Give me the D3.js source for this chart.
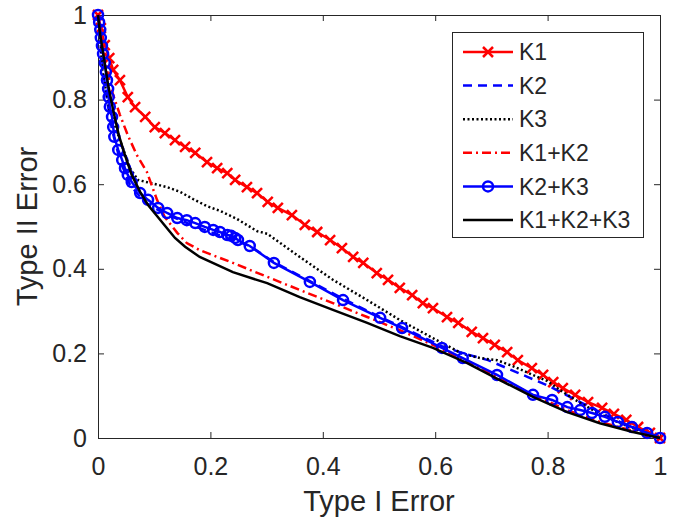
<!DOCTYPE html>
<html>
<head>
<meta charset="utf-8">
<script src="https://cdn.jsdelivr.net/npm/d3@7"></script>
<style>
  body { margin: 0; background: #fff; }
  svg text { font-family: "Liberation Sans", Arial, Helvetica, sans-serif; fill: #262626; }
</style>
</head>
<body>
<div id="chart"></div>
<script>
// values, [type I error, type II error]
const k1 = [[0,1],[0.005,0.969],[0.012,0.929],[0.02,0.898],[0.027,0.87],[0.039,0.846],[0.053,0.806],[0.066,0.782],
  [0.084,0.759],[0.101,0.735],[0.119,0.721],[0.137,0.704],[0.155,0.688],[0.173,0.674],[0.194,0.652],[0.212,0.638],
  [0.23,0.626],[0.244,0.61],[0.265,0.593],[0.283,0.579],[0.302,0.558],[0.32,0.544],[0.345,0.527],[0.368,0.504],
  [0.39,0.487],[0.413,0.468],[0.434,0.449],[0.454,0.428],[0.472,0.414],[0.496,0.39],[0.516,0.374],[0.537,0.355],
  [0.559,0.338],[0.578,0.319],[0.596,0.307],[0.621,0.286],[0.641,0.272],[0.665,0.251],[0.685,0.236],[0.706,0.22],
  [0.728,0.203],[0.747,0.184],[0.772,0.165],[0.792,0.149],[0.81,0.132],[0.827,0.118],[0.849,0.102],[0.872,0.085],
  [0.897,0.071],[0.918,0.057],[0.94,0.043],[0.961,0.026],[0.982,0.012],[1,0]];

const k2 = [[0,1],[0.004,0.941],[0.009,0.87],[0.016,0.799],[0.025,0.728],[0.039,0.657],[0.057,0.598],[0.084,0.556],
  [0.119,0.53],[0.181,0.496],[0.27,0.454],[0.313,0.416],[0.377,0.371],[0.436,0.329],[0.502,0.286],[0.541,0.262],
  [0.612,0.217],[0.653,0.199],[0.694,0.184],[0.728,0.165],[0.765,0.144],[0.799,0.125],[0.827,0.106],[0.858,0.085],
  [0.893,0.061],[0.929,0.038],[0.964,0.019],[1,0]];

const k3 = [[0,1],[0.004,0.953],[0.007,0.877],[0.014,0.823],[0.021,0.775],[0.039,0.704],[0.057,0.638],[0.071,0.61],
  [0.093,0.603],[0.123,0.593],[0.146,0.582],[0.169,0.565],[0.194,0.548],[0.217,0.537],[0.247,0.518],[0.283,0.489],
  [0.301,0.483],[0.359,0.428],[0.418,0.374],[0.479,0.326],[0.537,0.279],[0.596,0.236],[0.649,0.199],[0.68,0.189],
  [0.71,0.184],[0.738,0.17],[0.774,0.149],[0.799,0.135],[0.827,0.109],[0.858,0.083],[0.893,0.057],[0.929,0.035],
  [0.964,0.017],[1,0]];

const k1k2 = [[0,1],[0.005,0.953],[0.012,0.894],[0.02,0.846],[0.027,0.811],[0.039,0.764],[0.053,0.716],[0.069,0.669],
  [0.087,0.629],[0.105,0.563],[0.119,0.522],[0.141,0.485],[0.158,0.461],[0.181,0.444],[0.24,0.414],[0.301,0.381],
  [0.359,0.35],[0.418,0.319],[0.479,0.286],[0.537,0.255],[0.596,0.22],[0.657,0.182],[0.715,0.142],[0.774,0.102],
  [0.835,0.066],[0.893,0.038],[0.952,0.017],[1,0]];

const k2k3 = [[0,1],[0.002,0.983],[0.004,0.965],[0.005,0.946],[0.007,0.927],[0.009,0.908],[0.012,0.887],[0.014,0.865],
  [0.016,0.846],[0.018,0.825],[0.019,0.806],[0.021,0.783],[0.025,0.759],[0.027,0.735],[0.029,0.712],[0.036,0.681],
  [0.043,0.657],[0.048,0.638],[0.053,0.622],[0.06,0.605],[0.075,0.579],[0.089,0.563],[0.107,0.544],[0.123,0.532],
  [0.141,0.52],[0.158,0.515],[0.173,0.508],[0.19,0.499],[0.205,0.492],[0.217,0.487],[0.23,0.48],[0.237,0.478],
  [0.244,0.473],[0.249,0.468],[0.27,0.454],[0.313,0.414],[0.377,0.369],[0.436,0.326],[0.502,0.284],[0.541,0.26],
  [0.612,0.213],[0.649,0.189],[0.71,0.149],[0.774,0.102],[0.808,0.09],[0.835,0.073],[0.858,0.066],[0.879,0.059],
  [0.902,0.05],[0.925,0.038],[0.95,0.026],[0.977,0.012],[1,0]];

const k1k2k3 = [[0,1],[0.004,0.953],[0.011,0.894],[0.018,0.835],[0.027,0.775],[0.037,0.716],[0.048,0.669],[0.06,0.622],
  [0.075,0.582],[0.089,0.551],[0.105,0.525],[0.121,0.499],[0.137,0.473],[0.155,0.452],[0.181,0.428],[0.24,0.392],
  [0.301,0.366],[0.359,0.333],[0.418,0.303],[0.479,0.272],[0.537,0.241],[0.596,0.213],[0.657,0.177],[0.715,0.137],
  [0.774,0.097],[0.835,0.061],[0.893,0.035],[0.952,0.014],[1,0]];

const seriesNames = ["K1", "K2", "K3", "K1+K2", "K2+K3", "K1+K2+K3"];
const xTicks = [0, 0.2, 0.4, 0.6, 0.8, 1];
const yTicks = [0, 0.2, 0.4, 0.6, 0.8, 1];

const series = [
  {name: seriesNames[0], data: k1, color: "#ff0000", dash: null, marker: "x"},
  {name: seriesNames[1], data: k2, color: "#0000ff", dash: "9,6", marker: null},
  {name: seriesNames[2], data: k3, color: "#000000", dash: "2,2.5", marker: null},
  {name: seriesNames[3], data: k1k2, color: "#ff0000", dash: "9,4,2,4", marker: null},
  {name: seriesNames[4], data: k2k3, color: "#0000ff", dash: null, marker: "o"},
  {name: seriesNames[5], data: k1k2k3, color: "#000000", dash: null, marker: null}
];

const W = 677, H = 520;
const plotL = 98, plotR = 660, plotT = 15, plotB = 438;

const svg = d3.select("#chart").append("svg")
  .attr("width", W)
  .attr("height", H);

const x = d3.scaleLinear().domain([0, 1]).range([plotL, plotR]);
const y = d3.scaleLinear().domain([0, 1]).range([plotB, plotT]);

const fmt = d3.format("~g");

// box with inward ticks on all four sides
svg.append("g")
  .attr("transform", `translate(0,${plotB})`)
  .call(d3.axisBottom(x).tickValues(xTicks).tickFormat(fmt).tickSizeInner(-6).tickSizeOuter(0).tickPadding(19))
  .call(g => g.selectAll("text").style("font-size", "25px"));
svg.append("g")
  .attr("transform", `translate(0,${plotT})`)
  .call(d3.axisTop(x).tickValues(xTicks).tickFormat("").tickSizeInner(-6).tickSizeOuter(0));
svg.append("g")
  .attr("transform", `translate(${plotL},0)`)
  .call(d3.axisLeft(y).tickValues(yTicks).tickFormat(fmt).tickSizeInner(-6).tickSizeOuter(0).tickPadding(11))
  .call(g => g.selectAll("text").style("font-size", "25px"));
svg.append("g")
  .attr("transform", `translate(${plotR},0)`)
  .call(d3.axisRight(y).tickValues(yTicks).tickFormat("").tickSizeInner(-6).tickSizeOuter(0));
svg.selectAll(".domain, .tick line").attr("stroke", "#262626");

svg.append("text")
  .attr("x", (plotL + plotR) / 2)
  .attr("y", 511)
  .attr("text-anchor", "middle")
  .style("font-size", "29px")
  .text("Type I Error");
svg.append("text")
  .attr("transform", `translate(37,${(plotT + plotB) / 2}) rotate(-90)`)
  .attr("text-anchor", "middle")
  .style("font-size", "29px")
  .text("Type II Error");

const line = d3.line().x(d => x(d[0])).y(d => y(d[1]));

function drawMarkers(g, pts, s) {
  if (s.marker === "x") {
    g.selectAll("path.m").data(pts).enter().append("path")
      .attr("d", d => `M${d[0]-5},${d[1]-5}L${d[0]+5},${d[1]+5}M${d[0]-5},${d[1]+5}L${d[0]+5},${d[1]-5}`)
      .attr("stroke", s.color).attr("stroke-width", 2.5).attr("fill", "none");
  } else if (s.marker === "o") {
    g.selectAll("circle").data(pts).enter().append("circle")
      .attr("cx", d => d[0]).attr("cy", d => d[1]).attr("r", 5)
      .attr("stroke", s.color).attr("stroke-width", 2.5).attr("fill", "none");
  }
}

series.forEach(s => {
  const g = svg.append("g");
  g.append("path")
    .datum(s.data)
    .attr("d", line)
    .attr("fill", "none")
    .attr("stroke", s.color)
    .attr("stroke-width", 2.5)
    .attr("stroke-dasharray", s.dash);
  drawMarkers(g, s.data.map(d => [x(d[0]), y(d[1])]), s);
});

// legend
const lg = svg.append("g");
lg.append("rect")
  .attr("x", 452.5).attr("y", 32.5)
  .attr("width", 191).attr("height", 205)
  .attr("fill", "#fff").attr("stroke", "#262626").attr("stroke-width", 1);

series.forEach((s, i) => {
  const ly = 52 + i * 33.6;
  const row = lg.append("g");
  row.append("line")
    .attr("x1", 463).attr("x2", 513).attr("y1", ly).attr("y2", ly)
    .attr("stroke", s.color).attr("stroke-width", 2.5)
    .attr("stroke-dasharray", s.dash);
  drawMarkers(row, [[488, ly]], s);
  row.append("text")
    .attr("x", 519).attr("y", ly)
    .attr("dy", "0.36em")
    .style("font-size", "23px")
    .text(s.name);
});
</script>
</body>
</html>
